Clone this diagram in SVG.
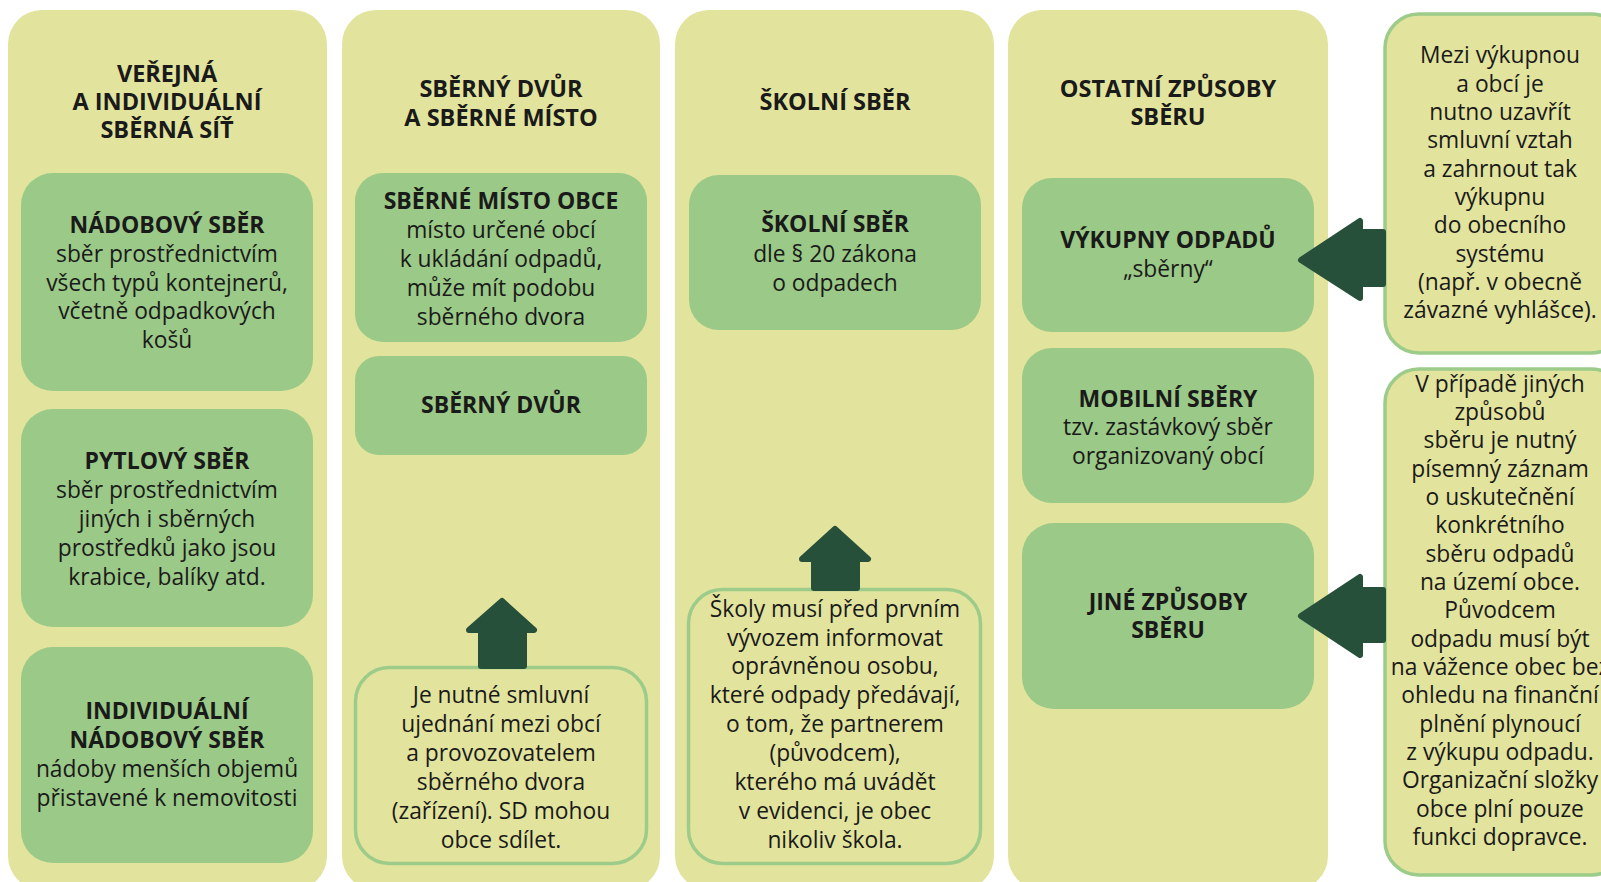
<svg xmlns="http://www.w3.org/2000/svg" width="1601" height="882" viewBox="0 0 1601 882">
<style>
.panel{fill:#e2e49d}
.box{fill:#9bc987}
.note{fill:#e2e49d;stroke:#9ccb8a;stroke-width:3.5}
.arr{fill:#27503a;stroke:#27503a;stroke-width:6;stroke-linejoin:round}
text{font-family:"Open Sans","Noto Sans","Liberation Sans",sans-serif;fill:#1a1a1a;text-anchor:middle;font-size:22.8px}
.t{font-weight:bold;font-size:23.5px}
.h{font-weight:bold;font-size:23px}
</style>
<rect width="1601" height="882" fill="#ffffff"/>

<g id="col1">
<rect class="panel" x="8" y="10" width="319" height="880" rx="34"/>
<text class="t" x="167" y="82">VEŘEJNÁ</text>
<text class="t" x="167" y="110">A INDIVIDUÁLNÍ</text>
<text class="t" x="167" y="138">SBĚRNÁ SÍŤ</text>
</g>
<g id="nadobovy">
<rect class="box" x="21" y="173" width="292" height="218" rx="32"/>
<text class="h" x="167" y="233">NÁDOBOVÝ SBĚR</text>
<text x="167" y="262">sběr prostřednictvím</text>
<text x="167" y="291">všech typů kontejnerů,</text>
<text x="167" y="319">včetně odpadkových</text>
<text x="167" y="348">košů</text>
</g>
<g id="pytlovy">
<rect class="box" x="21" y="409" width="292" height="218" rx="32"/>
<text class="h" x="167" y="469">PYTLOVÝ SBĚR</text>
<text x="167" y="498">sběr prostřednictvím</text>
<text x="167" y="527">jiných i sběrných</text>
<text x="167" y="556">prostředků jako jsou</text>
<text x="167" y="585">krabice, balíky atd.</text>
</g>
<g id="individualni">
<rect class="box" x="21" y="647" width="292" height="216" rx="32"/>
<text class="h" x="167" y="719">INDIVIDUÁLNÍ</text>
<text class="h" x="167" y="748">NÁDOBOVÝ SBĚR</text>
<text x="167" y="777">nádoby menších objemů</text>
<text x="167" y="806">přistavené k nemovitosti</text>
</g>

<g id="col2">
<rect class="panel" x="342" y="10" width="318" height="880" rx="34"/>
<text class="t" x="501" y="97">SBĚRNÝ DVŮR</text>
<text class="t" x="501" y="126">A SBĚRNÉ MÍSTO</text>
</g>
<g id="sberne-misto">
<rect class="box" x="355" y="173" width="292" height="169" rx="28"/>
<text class="h" x="501" y="209">SBĚRNÉ MÍSTO OBCE</text>
<text x="501" y="238">místo určené obcí</text>
<text x="501" y="267">k ukládání odpadů,</text>
<text x="501" y="296">může mít podobu</text>
<text x="501" y="325">sběrného dvora</text>
</g>
<g id="sberny-dvur">
<rect class="box" x="355" y="356" width="292" height="99" rx="24"/>
<text class="h" x="501" y="413">SBĚRNÝ DVŮR</text>
</g>
<g id="note-sd">
<rect class="note" x="355.5" y="667.5" width="291" height="196" rx="34"/>
<text x="501" y="703">Je nutné smluvní</text>
<text x="501" y="732">ujednání mezi obcí</text>
<text x="501" y="761">a provozovatelem</text>
<text x="501" y="790">sběrného dvora</text>
<text x="501" y="819">(zařízení). SD mohou</text>
<text x="501" y="848">obce sdílet.</text>
</g>

<g id="col3">
<rect class="panel" x="675" y="10" width="319" height="880" rx="34"/>
<text class="t" x="835" y="110">ŠKOLNÍ SBĚR</text>
</g>
<g id="skolni">
<rect class="box" x="689" y="175" width="292" height="155" rx="30"/>
<text class="h" x="835" y="232">ŠKOLNÍ SBĚR</text>
<text x="835" y="262">dle § 20 zákona</text>
<text x="835" y="291">o odpadech</text>
</g>
<g id="note-skoly">
<rect class="note" x="688.5" y="589.5" width="292" height="274" rx="34"/>
<text x="835" y="617">Školy musí před prvním</text>
<text x="835" y="646">vývozem informovat</text>
<text x="835" y="674">oprávněnou osobu,</text>
<text x="835" y="703">které odpady předávají,</text>
<text x="835" y="732">o tom, že partnerem</text>
<text x="835" y="761">(původcem),</text>
<text x="835" y="790">kterého má uvádět</text>
<text x="835" y="819">v evidenci, je obec</text>
<text x="835" y="848">nikoliv škola.</text>
</g>

<g id="col4">
<rect class="panel" x="1008" y="10" width="320" height="880" rx="34"/>
<text class="t" x="1168" y="97">OSTATNÍ ZPŮSOBY</text>
<text class="t" x="1168" y="125">SBĚRU</text>
</g>
<g id="vykupny">
<rect class="box" x="1022" y="178" width="292" height="154" rx="30"/>
<text class="h" x="1168" y="248">VÝKUPNY ODPADŮ</text>
<text x="1168" y="277">„sběrny“</text>
</g>
<g id="mobilni">
<rect class="box" x="1022" y="348" width="292" height="155" rx="30"/>
<text class="h" x="1168" y="407">MOBILNÍ SBĚRY</text>
<text x="1168" y="435">tzv. zastávkový sběr</text>
<text x="1168" y="464">organizovaný obcí</text>
</g>
<g id="jine">
<rect class="box" x="1022" y="523" width="292" height="186" rx="32"/>
<text class="h" x="1168" y="610">JINÉ ZPŮSOBY</text>
<text class="h" x="1168" y="638">SBĚRU</text>
</g>

<g id="note-vykupna">
<rect class="note" x="1385" y="14" width="240" height="339" rx="34"/>
<text x="1500" y="63">Mezi výkupnou</text>
<text x="1500" y="92">a obcí je</text>
<text x="1500" y="120">nutno uzavřít</text>
<text x="1500" y="148">smluvní vztah</text>
<text x="1500" y="177">a zahrnout tak</text>
<text x="1500" y="205">výkupnu</text>
<text x="1500" y="233">do obecního</text>
<text x="1500" y="262">systému</text>
<text x="1500" y="290">(např. v obecně</text>
<text x="1500" y="318">závazné vyhlášce).</text>
</g>
<g id="note-jine">
<rect class="note" x="1385" y="369" width="240" height="506" rx="34"/>
<text x="1500" y="392">V případě jiných</text>
<text x="1500" y="420">způsobů</text>
<text x="1500" y="448">sběru je nutný</text>
<text x="1500" y="477">písemný záznam</text>
<text x="1500" y="505">o uskutečnění</text>
<text x="1500" y="533">konkrétního</text>
<text x="1500" y="562">sběru odpadů</text>
<text x="1500" y="590">na území obce.</text>
<text x="1500" y="618">Původcem</text>
<text x="1500" y="647">odpadu musí být</text>
<text x="1500" y="675">na vážence obec bez</text>
<text x="1500" y="703">ohledu na finanční</text>
<text x="1500" y="732">plnění plynoucí</text>
<text x="1500" y="760">z výkupu odpadu.</text>
<text x="1500" y="788">Organizační složky</text>
<text x="1500" y="817">obce plní pouze</text>
<text x="1500" y="845">funkci dopravce.</text>
</g>

<g id="connectors">
<path class="arr" d="M502,601 L534,630 L524,630 L524,666 L481,666 L481,630 L469,630 Z"/>
<path class="arr" d="M835,529 L868,559 L857,559 L857,588 L814,588 L814,559 L802,559 Z"/>
<path class="arr" d="M1301,260 L1360,221 L1360,232 L1383,232 L1383,284 L1360,284 L1360,298 Z"/>
<path class="arr" d="M1301,616 L1360,577 L1360,590 L1383,590 L1383,640 L1360,640 L1360,655 Z"/>
</g>
</svg>
